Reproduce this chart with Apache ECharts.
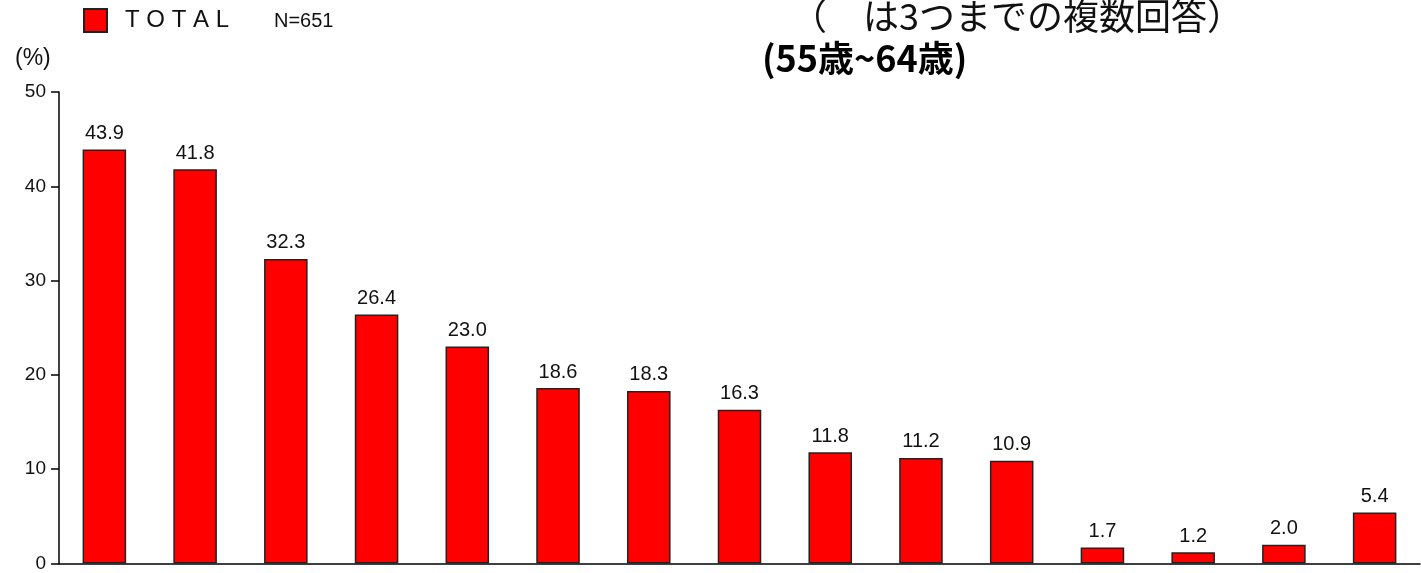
<!DOCTYPE html>
<html>
<head>
<meta charset="utf-8">
<script src="https://cdn.jsdelivr.net/npm/echarts@6/dist/echarts.min.js"></script>
<style>
html, body { margin: 0; padding: 0; background: #fff; }
#main { width: 1421px; height: 573px; }
</style>
</head>
<body>
<div id="main"></div>
<script>
var categories = ['1', '2', '3', '4', '5', '6', '7', '8', '9', '10', '11', '12', '13', '14', '15'];
var totalValues = [43.9, 41.8, 32.3, 26.4, 23.0, 18.6, 18.3, 16.3, 11.8, 11.2, 10.9, 1.7, 1.2, 2.0, 5.4];
var yTicks = [0, 10, 20, 30, 40, 50];
var seriesName = 'TOTAL';
var sampleNote = 'N=651';
var titleText = '（　は3つまでの複数回答）';
var subTitleText = '(55歳~64歳)';

var chart = echarts.init(document.getElementById('main'));

var option = {
	animation: false,
	backgroundColor: '#fff',
	grid: {
		left: 59,
		right: 1,
		top: 92,
		bottom: 8
	},
	legend: {
		data: [seriesName],
		left: 83,
		top: 8,
		padding: 0,
		icon: 'rect',
		itemWidth: 23,
		itemHeight: 23,
		formatter: function(name) {
			return name.split('').join(' ');
		},
		textStyle: {
			fontFamily: 'Liberation Sans',
			fontSize: 24,
			color: '#111',
			padding: [0, 0, 0, 13]
		}
	},
	graphic: [
		{
			type: 'text',
			left: 274,
			top: 11,
			style: { text: sampleNote, fontFamily: 'Liberation Sans Narrow, Liberation Sans', fontSize: 20, fill: '#111' }
		},
		{
			type: 'text',
			left: 15,
			top: 47,
			style: { text: '(%)', fontFamily: 'Liberation Sans Narrow, Liberation Sans', fontSize: 23, fill: '#111' }
		},
		{
			type: 'text',
			left: 791,
			top: -2,
			style: { text: titleText, fontFamily: 'Noto Sans CJK JP', fontSize: 36, fill: '#111' }
		},
		{
			type: 'text',
			left: 762,
			top: 40,
			style: { text: subTitleText, fontFamily: 'Noto Sans CJK JP', fontWeight: 'bold', fontSize: 36, fill: '#000' }
		}
	],
	xAxis: {
		type: 'category',
		data: categories,
		axisLine: { lineStyle: { color: '#000', width: 1.5 } },
		axisTick: { show: false },
		axisLabel: { show: false }
	},
	yAxis: {
		type: 'value',
		min: yTicks[0],
		max: yTicks[yTicks.length - 1],
		interval: 10,
		splitLine: { show: false },
		axisLine: { show: true, lineStyle: { color: '#000', width: 1.5 } },
		axisTick: { show: true, length: 8, lineStyle: { color: '#000', width: 1.5 } },
		axisLabel: {
			margin: 13,
			fontFamily: 'Liberation Sans',
			fontSize: 19,
			color: '#111'
		}
	},
	series: [{
		name: seriesName,
		type: 'bar',
		data: totalValues,
		barWidth: '48%',
		itemStyle: {
			color: '#ff0000',
			borderColor: '#222',
			borderWidth: 1.5
		},
		label: {
			show: true,
			position: 'top',
			distance: 6,
			formatter: function(p) { return p.value.toFixed(1); },
			fontFamily: 'Liberation Sans',
			fontSize: 20,
			color: '#111'
		}
	}]
};

chart.setOption(option);
</script>
</body>
</html>
